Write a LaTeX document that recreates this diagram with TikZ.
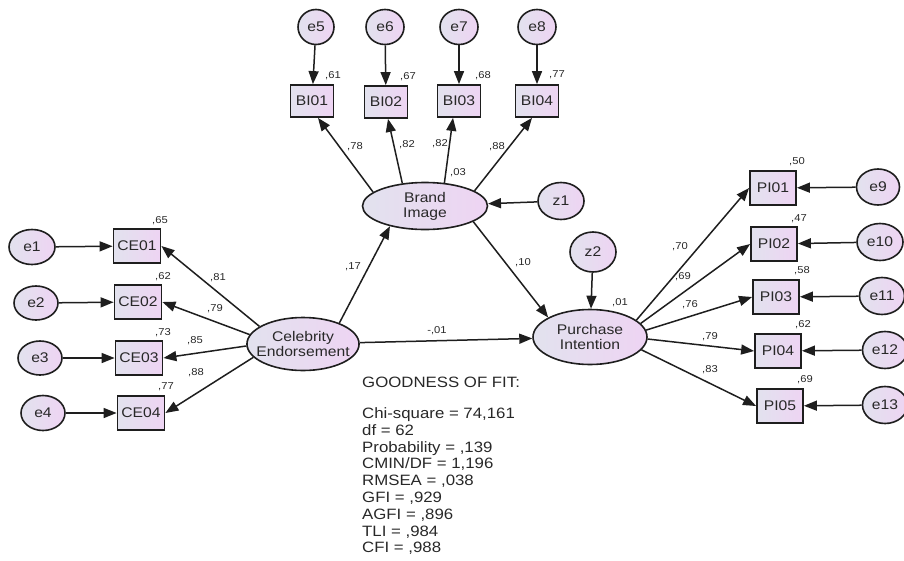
\documentclass[tikz,border=0pt]{standalone}
\usepackage{fontspec}
\setmainfont{Liberation Sans}[FakeStretch=1.12]
\usetikzlibrary{shapes.geometric,arrows.meta}
\definecolor{fillA}{RGB}{226,226,238}
\definecolor{fillB}{RGB}{238,212,243}
\definecolor{ink}{RGB}{30,30,30}
\definecolor{txt}{RGB}{40,40,40}
\begin{document}
\begin{tikzpicture}[x=1pt,y=-1pt,
 every node/.style={text=txt},
 lat/.style={ellipse, draw=ink, line width=1.6pt, left color=fillA, right color=fillB, inner sep=0pt, align=center, font=\fontsize{14}{15}\selectfont},
 obs/.style={rectangle, draw=ink, line width=1.8pt, left color=fillA, right color=fillB, minimum width=45pt, minimum height=33pt, inner sep=0pt, font=\fontsize{14}{15}\selectfont},
 err/.style={ellipse, draw=ink, line width=1.6pt, left color=fillA, right color=fillB, minimum width=44pt, minimum height=36pt, inner sep=0pt, font=\fontsize{14}{15}\selectfont},
 arr/.style={draw=ink, line width=1.5pt, -{Triangle[length=13pt,width=10pt]}},
 lbl/.style={font=\fontsize{10}{11}\selectfont, inner sep=0pt},
 gof/.style={font=\fontsize{15}{16}\selectfont, inner sep=0pt, anchor=base west}
]
\useasboundingbox (0,0) rectangle (904,560);
% latent variables
\node[lat, minimum width=125pt, minimum height=47pt] (bi) at (425,206) {Brand\\Image};
\node[lat, minimum width=112pt, minimum height=53pt, inner xsep=-7pt] (ce) at (303,344) {Celebrity\\Endorsement};
\node[lat, minimum width=114pt, minimum height=55pt] (pi) at (590,337) {Purchase\\Intention};
\node[err, minimum width=46pt, minimum height=37pt] (z1) at (561,201) {z1};
\node[err, minimum width=46pt, minimum height=40pt] (z2) at (593,252) {z2};
% BI indicators
\node[obs, minimum width=43pt, minimum height=32pt] (BI01) at (312,101) {BI01};
\node[obs, minimum width=43pt, minimum height=32pt] (BI02) at (386,102) {BI02};
\node[obs, minimum width=43pt, minimum height=32pt] (BI03) at (459,101) {BI03};
\node[obs, minimum width=43pt, minimum height=32pt] (BI04) at (537,101) {BI04};
\node[err, minimum width=36pt, minimum height=35pt] (e5) at (316,27) {e5};
\node[err, minimum width=38pt, minimum height=35pt] (e6) at (385,27) {e6};
\node[err, minimum width=38pt, minimum height=35pt] (e7) at (459,27) {e7};
\node[err, minimum width=38pt, minimum height=35pt] (e8) at (537,27) {e8};
% CE indicators
\node[obs, minimum width=47pt, minimum height=34pt] (CE01) at (137,246) {CE01};
\node[obs, minimum width=47pt, minimum height=34pt] (CE02) at (138,302) {CE02};
\node[obs, minimum width=47pt, minimum height=34pt] (CE03) at (139,358) {CE03};
\node[obs, minimum width=47pt, minimum height=34pt] (CE04) at (141,413) {CE04};
\node[err, minimum width=46pt, minimum height=35pt] (e1) at (32,247) {e1};
\node[err, minimum width=44pt, minimum height=34pt] (e2) at (36,303) {e2};
\node[err, minimum width=44pt, minimum height=34pt] (e3) at (40,358) {e3};
\node[err, minimum width=44pt, minimum height=35pt] (e4) at (43,413) {e4};
% PI indicators
\node[obs, minimum width=46pt, minimum height=34pt] (PI01) at (773,188) {PI01};
\node[obs, minimum width=46pt, minimum height=34pt] (PI02) at (774,244) {PI02};
\node[obs, minimum width=46pt, minimum height=34pt] (PI03) at (776,297) {PI03};
\node[obs, minimum width=46pt, minimum height=34pt] (PI04) at (778,351) {PI04};
\node[obs, minimum width=46pt, minimum height=34pt] (PI05) at (780,406) {PI05};
\node[err, minimum width=43pt, minimum height=36pt] (e9) at (878,187) {e9};
\node[err, minimum width=46pt, minimum height=37pt] (e10) at (880,242) {e10};
\node[err, minimum width=45pt, minimum height=37pt] (e11) at (882,296) {e11};
\node[err, minimum width=45pt, minimum height=37pt] (e12) at (885,350) {e12};
\node[err, minimum width=45pt, minimum height=37pt] (e13) at (885,405) {e13};
% structural paths
\draw[arr] (ce.30) -- (bi.210);
\draw[arr] (bi.-18) -- (pi.155);
\draw[arr] (ce) -- (pi);
\draw[arr] (z1) -- (bi);
\draw[arr] (z2) -- (pi);
% BI loadings
\draw[arr] (bi.165) -- ([xshift=6pt]BI01.south);
\draw[arr] (bi.135) -- ([xshift=2pt]BI02.south);
\draw[arr] (bi.50) -- ([xshift=-6pt]BI03.south);
\draw[arr] (bi.17) -- ([xshift=-5pt]BI04.south);
\draw[arr] (e5) -- (BI01);
\draw[arr] (e6) -- (BI02);
\draw[arr] (e7) -- (BI03);
\draw[arr] (e8) -- (BI04);
% CE loadings
\draw[arr] (ce.158) -- (CE01.east);
\draw[arr] (ce.170) -- (CE02.east);
\draw[arr] (ce.182) -- (CE03.east);
\draw[arr] (ce.195) -- (CE04.east);
\draw[arr] (e1) -- (CE01);
\draw[arr] (e2) -- (CE02);
\draw[arr] (e3) -- (CE03);
\draw[arr] (e4) -- (CE04);
% PI loadings
\draw[arr] (pi.20) -- (PI01.west);
\draw[arr] (pi.15) -- (PI02.west);
\draw[arr] (pi.7) -- (PI03.west);
\draw[arr] (pi.-2) -- (PI04.west);
\draw[arr] (pi.-14) -- (PI05.west);
\draw[arr] (e9) -- (PI01);
\draw[arr] (e10) -- (PI02);
\draw[arr] (e11) -- (PI03);
\draw[arr] (e12) -- (PI04);
\draw[arr] (e13) -- (PI05);
% labels
\node[lbl] (l61) at (333,76) {,61};
\node[lbl] (l67) at (408,77) {,67};
\node[lbl] (l68) at (483,76) {,68};
\node[lbl] (l77a) at (557,75) {,77};
\node[lbl] (l78) at (355,147) {,78};
\node[lbl] (l82a) at (407,145) {,82};
\node[lbl] (l82b) at (440,144) {,82};
\node[lbl] (l88a) at (497,147) {,88};
\node[lbl] (l03) at (458,173) {,03};
\node[lbl] (l17) at (353,267) {,17};
\node[lbl] (l10) at (523,263) {,10};
\node[lbl] (l01n) at (437,331) {-,01};
\node[lbl] (l01) at (620,303) {,01};
\node[lbl] (l65) at (160,221) {,65};
\node[lbl] (l62a) at (163,277) {,62};
\node[lbl] (l73) at (163,333) {,73};
\node[lbl] (l77b) at (166,387) {,77};
\node[lbl] (l81) at (218,278) {,81};
\node[lbl] (l79a) at (215,309) {,79};
\node[lbl] (l85) at (195,341) {,85};
\node[lbl] (l88b) at (196,373) {,88};
\node[lbl] (l50) at (797,162) {,50};
\node[lbl] (l47) at (799,219) {,47};
\node[lbl] (l58) at (802,271) {,58};
\node[lbl] (l62b) at (803,325) {,62};
\node[lbl] (l69a) at (805,380) {,69};
\node[lbl] (l70) at (680,247) {,70};
\node[lbl] (l69b) at (683,277) {,69};
\node[lbl] (l76) at (690,305) {,76};
\node[lbl] (l79b) at (710,337) {,79};
\node[lbl] (l83) at (710,370) {,83};
% goodness of fit
\node[gof] (g0) at (362,387.5) {GOODNESS OF FIT:};
\node[gof] (g1) at (362,418.5) {Chi-square = 74,161};
\node[gof] (g2) at (362,435.3) {df = 62};
\node[gof] (g3) at (362,452.1) {Probability = ,139};
\node[gof] (g4) at (362,468.9) {CMIN/DF = 1,196};
\node[gof] (g5) at (362,485.7) {RMSEA = ,038};
\node[gof] (g6) at (362,502.5) {GFI = ,929};
\node[gof] (g7) at (362,519.3) {AGFI = ,896};
\node[gof] (g8) at (362,536.1) {TLI = ,984};
\node[gof] (g9) at (362,552.9) {CFI = ,988};
\end{tikzpicture}
\end{document}
